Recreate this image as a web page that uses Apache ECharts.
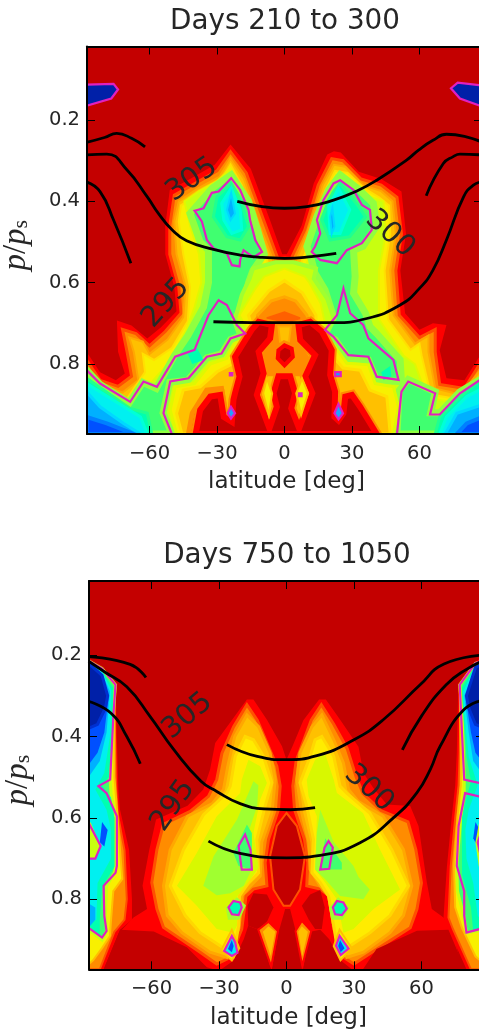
<!DOCTYPE html>
<html><head><meta charset="utf-8"><style>html,body{margin:0;padding:0;background:#fff;overflow:hidden}#c{width:479px;height:1032px}</style>
<script src="https://cdn.jsdelivr.net/npm/echarts@6/dist/echarts.min.js"></script></head><body><div id="c"></div>
<script>
const latTicks=[-60,-30,0,30,60];
const pTicks=[0.2,0.4,0.6,0.8];
const titles=['Days 210 to 300','Days 750 to 1050'];
const contourLabels=['305','300','295'];

// ---- Panel 1: temperature bands [lat, p/ps]
const t1Red=[[-88,.972],[-88,.77],[-82,.82],[-75,.84],[-71,.823],[-74,.77],[-74.5,.693],[-68,.705],[-61,.737],[-55,.71],[-48,.67],[-49,.61],[-53,.53],[-53,.46],[-51,.372],[-42,.345],[-31,.31],[-24,.26],[-15,.32],[-6.5,.445],[-1,.53],[1,.53],[7.6,.46],[13,.356],[19,.285],[22,.277],[25,.28],[33,.327],[43,.345],[52,.376],[54,.48],[51.5,.57],[53.6,.675],[60,.716],[66,.7],[72,.704],[69,.766],[72,.835],[80,.84],[88,.77],[88,.972]];
const t1Orange=[[-88,.972],[-88,.79],[-82,.84],[-74,.855],[-68,.83],[-70,.77],[-72,.715],[-66,.725],[-60,.755],[-53,.72],[-46,.675],[-47,.61],[-51,.53],[-51,.46],[-49,.385],[-41,.36],[-30,.325],[-24,.278],[-17,.33],[-9,.45],[-3,.54],[3,.54],[9,.47],[15,.36],[21,.295],[26,.3],[34,.345],[43,.36],[50,.39],[52,.48],[49.5,.57],[51,.68],[60,.735],[67,.715],[67,.77],[69,.85],[80,.86],[88,.79],[88,.972]];
const t1Gold=[[-88,.972],[-88,.81],[-80,.855],[-72,.87],[-65,.84],[-67,.77],[-69,.735],[-63,.745],[-60,.775],[-52,.74],[-45,.685],[-44,.61],[-48,.53],[-49,.45],[-47,.4],[-39,.37],[-29,.34],[-24,.295],[-18,.345],[-11,.46],[-4,.56],[4,.56],[10,.48],[17,.36],[22,.31],[27,.315],[35,.36],[43,.375],[48,.4],[49.5,.48],[47,.57],[48.5,.68],[58,.75],[64,.73],[64,.77],[67,.86],[78,.875],[88,.81],[88,.972]];
const t1Yellow=[[-88,.972],[-88,.835],[-78,.875],[-70,.885],[-62,.82],[-63,.775],[-58,.79],[-50,.76],[-43,.695],[-42,.61],[-45,.53],[-47,.45],[-46,.41],[-38,.38],[-29,.355],[-24,.31],[-19,.36],[-13,.47],[-6,.57],[6,.57],[12,.49],[18,.375],[22.5,.325],[28,.33],[36,.37],[42,.39],[46.5,.41],[47,.48],[44.5,.57],[46,.69],[56,.765],[60,.75],[61,.78],[65,.875],[76,.885],[88,.825],[88,.972]];
const t1Lime=[[-88,.972],[-88,.85],[-76,.89],[-68,.9],[-60,.85],[-52,.80],[-44,.72],[-40,.66],[-37,.6],[-38,.53],[-42,.46],[-44.5,.40],[-38,.375],[-30,.35],[-24,.32],[-20,.37],[-14,.48],[-8,.58],[8,.58],[14,.49],[19,.385],[23,.335],[28,.345],[36,.385],[44,.40],[45,.48],[42,.57],[42,.69],[53,.78],[58,.80],[62,.86],[66,.885],[76,.895],[88,.84],[88,.972]];
const t1GreenL=[[-42,.43],[-32,.367],[-23.7,.335],[-16,.40],[-12,.47],[-9,.53],[-14,.57],[-16,.6],[-18,.65],[-22,.69],[-20,.72],[-17,.725],[-24,.74],[-28,.775],[-34.5,.785],[-43,.84],[-51,.845],[-54,.92],[-50,.972],[-88,.972],[-88,.815],[-82,.85],[-69,.895],[-63,.845],[-57,.86],[-49,.78],[-43,.73],[-36,.66],[-33.8,.60],[-33.8,.52],[-37.5,.50]];
const t1GreenR=[[24.7,.335],[33,.37],[39.5,.405],[41,.46],[35,.51],[30.7,.52],[31.4,.585],[30.7,.626],[36,.675],[38,.708],[41,.725],[51.4,.79],[52,.843],[41,.84],[37.3,.79],[28.4,.786],[22.5,.74],[18,.728],[21.8,.684],[18,.618],[13.6,.577],[12,.544],[10,.511],[14.4,.438],[19.6,.372]];
const t1GreenBR=[[50,.972],[51,.865],[55,.838],[67,.868],[65,.92],[69,.92],[78,.868],[88,.835],[88,.972]];
const t1SpringL=[[-30,.389],[-23.7,.356],[-19,.405],[-16,.462],[-19.7,.495],[-25.6,.487],[-31.6,.438]];
const t1CyanL=[[-27.9,.405],[-23.7,.368],[-19.7,.421],[-19,.47],[-23.4,.479],[-27,.446]];
const t1SkyL=[[-25.6,.421],[-23.7,.38],[-22,.43],[-24,.446]];
const t1SpringR=[[19.6,.397],[24.7,.356],[33,.413],[36,.438],[29,.487],[20.3,.495],[16.6,.446]];
const t1CyanR=[[19.6,.413],[24,.368],[29,.421],[24.7,.479],[20.3,.479]];
const t1SkyR=[[20.3,.438],[21.3,.417],[22.2,.462],[21,.479]];
const t1SpringPatchL=[[-43,.775],[-39,.76],[-36,.79],[-41,.80]];
const t1SpringPatchR=[[43,.82],[47,.805],[47.5,.83],[44,.84]];
const t1SpringBL=[[-88,.835],[-68.6,.909],[-61,.921],[-59,.972],[-88,.972]];
const t1CyanBL=[[-88,.848],[-76,.889],[-64,.93],[-61,.972],[-88,.972]];
const t1SkyBL=[[-88,.868],[-82,.905],[-71.5,.946],[-64,.972],[-88,.972]];
const t1BlueBL=[[-88,.93],[-79,.946],[-67,.972],[-88,.972]];
const t1SpringBR=[[88,.835],[78,.88],[69,.93],[67,.972],[88,.972]];
const t1CyanBR=[[88,.86],[81,.88],[72,.93],[69,.972],[88,.972]];
const t1SkyBR=[[88,.9],[76.6,.921],[71.4,.972],[88,.972]];
const t1BlueBR=[[88,.93],[81,.946],[76.6,.972],[88,.972]];
const t1MidLime=[[-14,.565],[-4,.55],[4,.55],[14,.565],[13,.59],[19,.64],[22,.69],[19,.72],[14,.74],[-14,.74],[-19,.72],[-22,.69],[-19,.63],[-15.5,.59]];
const t1MidYellow=[[-9,.585],[0,.565],[9,.585],[11,.60],[16,.65],[18,.70],[15,.73],[-15,.73],[-20,.68],[-13,.615]];
const t1MidGold=[[-7,.62],[0,.595],[8,.625],[14,.68],[14,.72],[-14,.72],[-16,.68]];
const t1MidOrange=[[-6,.645],[0,.635],[5,.645],[10,.68],[11,.71],[-12,.71],[-12,.68]];
const t1MidDeep=[[-8,.685],[0,.67],[7,.685],[7,.705],[-8,.705]];
const t1LowYellow=[[-48,.972],[-50.8,.913],[-48.6,.856],[-40,.848],[-33,.80],[-25.6,.786],[-22,.749],[-16,.733],[16,.733],[21.8,.753],[27.7,.798],[37.3,.802],[40.3,.848],[48.4,.856],[50.7,.905],[48.4,.972]];
const t1LowGold=[[-45.6,.972],[-48,.921],[-45,.864],[-37.5,.856],[-30,.819],[-24,.802],[-20,.766],[-16,.741],[16.6,.741],[20.3,.774],[26,.81],[33.6,.815],[38,.864],[45.5,.88],[47,.972]];
const t1Neck=[[-7,.70],[7,.70],[8,.76],[12,.79],[10,.83],[-10,.83],[-12,.79],[-8,.76]];
const t1NeckGold=[[-2.7,.708],[2.8,.708],[2,.745],[-2,.745]];
const t1LowRedL=[[-42.7,.972],[-41,.921],[-34.6,.864],[-28,.86],[-26,.93],[-28,.972]];
const t1LowDark=[[-39.5,.972],[-37.5,.913],[-33,.88],[-28.6,.876],[-27,.93],[-23.4,.942],[-22.7,.888],[-22,.872],[-20,.831],[-22,.782],[-14.6,.716],[-11.5,.696],[-5.6,.704],[-6.4,.737],[-11.5,.77],[-9.3,.823],[-12.3,.876],[-6.7,.958],[-3.4,.905],[-4.9,.872],[-2.7,.83],[2.5,.83],[4.7,.872],[3,.909],[6.5,.958],[12.4,.872],[9.2,.831],[13.6,.778],[7,.741],[6.2,.704],[11.4,.696],[16.6,.72],[21,.766],[20.3,.827],[22.5,.868],[22.2,.93],[24,.939],[26.2,.921],[27,.88],[30,.876],[33.6,.905],[41,.972]];
const t1HoleC=[[-2.7,.766],[0,.754],[3.2,.762],[3.7,.782],[0,.803],[-3,.786]];
const t1ColL=[[-7.8,.835],[-5.5,.872],[-7,.925],[-9.5,.872]];
const t1ColR=[[7.8,.835],[10.5,.872],[7.4,.925],[5.2,.872]];
const t1DiaL=[[-23.8,.905],[-22,.921],[-23.8,.934],[-25.3,.921]];
const t1DiaR=[[24,.898],[26,.921],[24,.936],[22.2,.921]];
const t1DotL=[[-24.3,.822],[-23.2,.822],[-23.2,.828],[-24.3,.828]];
const t1DotR=[[22.5,.82],[25,.82],[25,.83],[22.5,.83]];
const t1DotC=[[6.4,.872],[7.6,.872],[7.6,.879],[6.4,.879]];
const t1CapL=[[-88,.113],[-76,.111],[-74,.125],[-77,.147],[-88,.165]];
const t1CapR=[[88,.115],[77,.108],[74,.122],[78,.147],[88,.167]];
// magenta contour
const t1MagLobeL=[[-40,.423],[-36,.417],[-32.3,.379],[-29.3,.376],[-23.7,.343],[-19.7,.372],[-16,.421],[-15.3,.446],[-13,.495],[-10,.524],[-13.8,.538],[-18.2,.52],[-19.7,.544],[-20,.56],[-23.4,.557],[-25.6,.528],[-31.5,.516],[-34.5,.495],[-36.7,.45]];
const t1MagLobeR=[[24.7,.348],[30.7,.372],[34.4,.409],[38,.421],[38.8,.47],[34.4,.503],[27.7,.52],[23.3,.552],[15.9,.544],[12.1,.524],[13.6,.511],[15.9,.479],[14.4,.446],[17.3,.397],[21.8,.356]];
const t1MagRingR=[[18,.716],[21.8,.733],[28.4,.778],[37.3,.782],[41,.831],[50.7,.839],[48.4,.79],[37.3,.737],[35,.704],[29.2,.675],[26.2,.614],[23.3,.68]];
const t1MagLow=[[-88,.815],[-82,.848],[-68.6,.893],[-62.7,.843],[-56.7,.856],[-48.6,.782],[-40,.765],[-33.8,.68],[-29.3,.643],[-25.6,.655],[-21.2,.704],[-17.5,.725],[-24,.737],[-28,.774],[-34.5,.782],[-42.7,.835],[-50.8,.843],[-53.8,.921],[-50,.973]];
const t1MagBR=[[50,.973],[52,.868],[55,.843],[67,.872],[64.7,.924],[69,.924],[78,.872],[88,.835]];
// black temperature contours
const t1L305a=[[-88,.255],[-80,.243],[-74.6,.233],[-68,.245],[-62,.266]];
const t1L305b=[[-21,.40],[-10,.413],[0,.417],[10,.413],[21.8,.397],[32,.375],[41,.348],[54.4,.298],[59.6,.274],[66,.25],[72,.235],[80,.24],[88,.255]];
const t1L300a=[[-88,.286],[-79,.284],[-70,.323],[-61,.389],[-56,.43],[-50,.47],[-43.5,.497],[-31.6,.518],[-19.7,.532],[-10,.538],[0,.54],[12,.536],[23,.528]];
const t1L300b=[[63,.386],[70.6,.307],[75,.29],[78,.284],[88,.286]];
const t1L295a=[[-88,.352],[-82,.376],[-76,.446],[-68.3,.552]];
const t1L295b=[[-31.6,.696],[-15,.698],[21.8,.698],[36.6,.688],[51.4,.655],[60,.614],[66,.569],[72,.495],[79.6,.389],[84,.36],[88,.352]];
const t1LabelLat=[-41.2,46.9,-52.7], t1LabelP=[.347,.48,.65];

// ---- Panel 2
const t2RedC=[[-17.6,.309],[-14.7,.309],[-8.7,.359],[-2,.424],[0,.457],[3,.42],[7.5,.36],[14.5,.309],[17.5,.309],[24,.36],[32,.425],[34.2,.49],[38.7,.527],[44.6,.567],[55,.571],[58.7,.62],[62.4,.759],[64.6,.824],[69.8,.845],[74,.88],[78,.972],[-80,.972],[-74,.88],[-68,.845],[-62,.824],[-64,.767],[-61,.678],[-58,.604],[-44,.57],[-37,.53],[-34,.482],[-31.7,.416]];
const t2RedL=[[-88,.205],[-81.3,.241],[-76,.27],[-75.4,.408],[-74.7,.53],[-74,.58],[-70,.678],[-68.7,.80],[-68.7,.85],[-74,.875],[-81.3,.972],[-88,.972]];
const t2RedR=[[76.4,.27],[84,.216],[88,.205],[88,.972],[80,.972],[72,.873],[69.8,.845],[71.3,.72],[73.5,.596],[75,.52],[75.7,.44]];
const t2OrangeLobeL=[[-17.6,.322],[-23.5,.376],[-28.7,.441],[-31,.506],[-34.7,.547],[-42.8,.584],[-54.7,.616],[-57.6,.678],[-59.9,.759],[-57.6,.824],[-54.7,.869],[-38.4,.93],[-31,.959],[-25,.943],[-19.9,.873],[-18,.792],[-14.7,.775],[-8.7,.767],[-9.5,.71],[-8,.653],[-3.6,.58],[-2.8,.522],[-4.3,.473],[-13,.36]];
const t2OrangeLobeR=[[15.5,.322],[21,.37],[27,.43],[31,.50],[34,.54],[42,.582],[54,.61],[57.5,.678],[60,.76],[58,.824],[55,.87],[38,.93],[30,.959],[26,.945],[21,.873],[19,.792],[15,.775],[9,.767],[9.5,.71],[8,.653],[3.6,.58],[2.8,.522],[4.3,.46],[11,.36]];
const t2GoldLobeL=[[-17.6,.347],[-23,.40],[-26,.47],[-28,.53],[-33,.565],[-44,.596],[-51.7,.678],[-54.7,.767],[-53,.84],[-46.5,.882],[-34,.93],[-26.5,.943],[-21.3,.873],[-20,.792],[-16,.767],[-11.7,.743],[-11,.66],[-6.5,.588],[-5,.506],[-7.3,.44],[-12.4,.376]];
const t2GoldLobeR=[[15.7,.347],[21,.408],[25.3,.465],[27.6,.53],[32,.56],[43,.596],[52,.678],[55.7,.767],[52,.84],[46,.882],[34.2,.93],[26.8,.943],[21,.865],[18.7,.792],[15,.767],[10.5,.727],[10,.66],[6.8,.588],[4.6,.506],[6,.44],[11.3,.376]];
const t2YellowLobeL=[[-18.4,.40],[-22.8,.449],[-25,.522],[-26.5,.539],[-36.9,.592],[-45.8,.678],[-51.7,.767],[-45,.84],[-38.4,.882],[-29.5,.914],[-23.6,.94],[-21.3,.865],[-20.9,.792],[-16.9,.759],[-12.4,.735],[-13.2,.653],[-9.5,.571],[-6.5,.514],[-10.2,.449],[-14.7,.408]];
const t2YellowLobeR=[[15.7,.40],[21,.449],[23.8,.522],[26.8,.539],[37,.588],[46.8,.678],[54.2,.767],[46,.84],[37.2,.882],[28.3,.914],[23,.935],[21,.865],[18.7,.792],[15,.759],[11.3,.735],[12,.653],[9,.571],[6,.514],[10.5,.449],[12.7,.408]];
const t2LimeLobeL=[[-16.9,.457],[-19.9,.506],[-20.6,.539],[-31,.596],[-39.9,.686],[-48.7,.767],[-39.9,.816],[-31,.873],[-23.6,.882],[-22,.865],[-21.8,.792],[-16,.751],[-12.4,.722],[-14.7,.637],[-11.7,.555],[-8.7,.514],[-11.7,.473]];
const t2LimeLobeR=[[17,.44],[21,.506],[22.4,.539],[34,.588],[41.6,.678],[50.5,.776],[38.7,.824],[29.8,.873],[25.3,.882],[22.4,.8],[17.2,.759],[12.7,.727],[13.5,.596],[9.8,.547],[9,.506],[12.7,.457]];
const t2GrassL=[[-14.7,.51],[-17,.54],[-22,.604],[-32.4,.694],[-37,.767],[-31,.79],[-25,.785],[-19,.767],[-15.5,.727],[-17,.637],[-13,.57],[-12.5,.52]];
const t2GrassR=[[15,.58],[21,.66],[29.8,.718],[32,.745],[37,.776],[34.2,.8],[23.8,.792],[17.2,.751],[12.7,.727],[13.5,.637]];
const t2GreenL=[[-17.6,.616],[-15.4,.637],[-15.4,.727],[-21.3,.718],[-23.6,.686]];
const t2GreenR=[[17.2,.65],[24.6,.71],[24.6,.727],[15,.727]];
const t2SpikeOrangeL=[[-12.5,.875],[-8,.855],[-3.8,.878],[-6.8,.965]];
const t2SpikeOrangeR=[[4,.878],[6.8,.853],[11,.878],[7,.963]];
const t2SpikeGoldL=[[-10.5,.88],[-8,.866],[-5,.88],[-7,.94]];
const t2SpikeGoldR=[[5.2,.88],[6.8,.866],[9.5,.88],[7,.94]];
const t2Lens=[[0,.588],[-4.3,.62],[-7.3,.694],[-5.8,.776],[-1.3,.816],[1.6,.816],[6,.776],[8.2,.694],[4.6,.62]];
const t2HexL=[[-14.7,.785],[-8.7,.788],[-5.8,.82],[-9.5,.865],[-13.2,.873],[-17,.865],[-17.3,.816]];
const t2HexR=[[6.8,.816],[10.5,.788],[15,.777],[17,.82],[15.7,.873],[12.7,.873],[9.8,.849]];
const t2Wedge=[[-81.3,.973],[-74,.875],[-59,.879],[-44.3,.918],[-35.4,.967],[-32.4,.972],[-29,.972],[-23.6,.951],[-19,.898],[-17,.865],[-12.4,.875],[-7.3,.963],[-6.5,.972],[-3.6,.882],[-.6,.824],[1.6,.824],[4.3,.882],[6.8,.963],[7.3,.972],[10.5,.88],[15,.875],[19,.898],[24,.95],[29,.972],[34,.972],[40,.922],[58,.877],[72,.875],[79.5,.973]];
const t2SpotL=[[-25.8,.82],[-23.6,.804],[-20.6,.808],[-19.9,.82],[-21.3,.839],[-24.3,.837]];
const t2SpotR=[[20.6,.82],[22.4,.804],[25.3,.808],[26.8,.823],[24.6,.839],[21.6,.837]];
const t2HaloL=[[-27,.82],[-22,.795],[-18,.815],[-21,.85],[-26,.85]];
const t2HaloR=[[19,.82],[23,.795],[28,.82],[25,.85],[20,.85]];
const t2DiaHaloL=[[-24.3,.875],[-21,.92],[-24.3,.95],[-29,.925]];
const t2DiaHaloR=[[23.6,.875],[29,.92],[24,.95],[21,.915]];
const t2DiaL=[[-24.3,.89],[-22.8,.906],[-21.8,.931],[-24.3,.939],[-27.7,.927]];
const t2DiaR=[[23.6,.89],[27.6,.921],[24.1,.937],[22,.914]];
const t2DiaCoreL=[[-24.3,.90],[-23.5,.915],[-24.3,.93],[-26,.922]];
const t2DiaCoreR=[[23.8,.90],[25.8,.92],[24.1,.93],[23,.915]];
const t2OrangeColL=[[-88,.23],[-81,.255],[-76.8,.28],[-76.2,.41],[-75.7,.53],[-75,.59],[-72,.68],[-71,.8],[-72,.85],[-76.5,.88],[-83,.972],[-88,.972]];
const t2YellowColL=[[-88,.22],[-82,.245],[-76.5,.28],[-76.5,.41],[-76.5,.5],[-75.5,.57],[-74,.68],[-73,.75],[-77,.78],[-78,.85],[-78.5,.89],[-82,.92],[-86,.95],[-88,.96]];
const t2GreenColL=[[-88,.214],[-82,.233],[-76,.273],[-77,.343],[-78.4,.506],[-78,.54],[-75.8,.6],[-75.8,.718],[-76.5,.735],[-80,.767],[-80.5,.841],[-80,.878],[-82,.9],[-88,.875]];
const t2SpringColL=[[-88,.22],[-82,.24],[-77,.28],[-77.5,.4],[-79,.5],[-82,.52],[-78,.55],[-76.5,.6],[-76.5,.72],[-82,.77],[-83,.85],[-83,.89],[-88,.865]];
const t2CyanColL=[[-88,.22],[-82,.24],[-78,.285],[-78.5,.4],[-81,.49],[-85,.53],[-80,.58],[-78,.63],[-78,.70],[-84,.76],[-84.5,.85],[-88,.86]];
const t2SkyColL=[[-88,.22],[-82,.245],[-78.5,.29],[-80,.39],[-83,.46],[-88,.5]];
const t2BlueColL=[[-88,.22],[-82,.25],[-79,.3],[-81,.39],[-84,.44],[-88,.47]];
const t2DeepColL=[[-88,.22],[-82,.25],[-79.5,.3],[-80.5,.33],[-84,.37],[-88,.38]];
const t2SpotMidL=[[-82,.61],[-79.5,.63],[-81,.67],[-83,.66]];
const t2SpotLowL=[[-88,.81],[-85,.82],[-85,.85],[-88,.87]];
const t2PatchL=[[-88,.61],[-87,.612],[-82.6,.669],[-85,.70],[-88,.70]];
const t2OrangeColR=[[77.5,.28],[84,.23],[88,.22],[88,.972],[82,.972],[74,.873],[72,.845],[73,.72],[75,.6],[76.5,.52],[77,.44]];
const t2YellowColR=[[77,.28],[84,.225],[88,.215],[88,.96],[84,.94],[78,.87],[75,.82],[74.5,.72],[76,.6],[77.5,.52],[77.5,.44]];
const t2GreenColR=[[77,.273],[84,.22],[88,.214],[88,.875],[80,.882],[78.8,.84],[76,.78],[75.7,.718],[77.5,.6],[79,.539],[79,.506],[78,.34]];
const t2SpringColR=[[78,.28],[84,.225],[88,.22],[88,.865],[83,.88],[82,.82],[78,.74],[78,.6],[80,.55],[82,.51],[80,.45],[78.5,.34]];
const t2CyanColR=[[78.5,.29],[84,.225],[88,.22],[88,.86],[85,.84],[83,.76],[80,.70],[79.5,.63],[81,.58],[85,.52],[81,.45],[79,.34]];
const t2SkyColR=[[79,.30],[84,.23],[88,.22],[88,.5],[83,.46],[81,.39]];
const t2BlueColR=[[79.5,.30],[84,.23],[88,.22],[88,.47],[84,.44],[82,.39]];
const t2DeepColR=[[80,.30],[84,.23],[88,.22],[88,.38],[84,.37],[81,.33]];
const t2SpotMidR=[[84,.61],[86,.63],[85,.67],[83,.65]];
const t2PatchR=[[88,.61],[85.5,.615],[84,.66],[85.5,.72],[88,.72]];
const t2MagColL=[[-88,.214],[-82,.233],[-76,.273],[-76.9,.343],[-78.4,.506],[-83.6,.522],[-80,.539],[-75.4,.596],[-75.4,.718],[-76,.735],[-81.3,.767],[-81,.841],[-80,.878],[-82,.894],[-88,.87]];
const t2MagPatchL=[[-88,.612],[-82.6,.669],[-85,.70],[-88,.70]];
const t2MagColR=[[88,.212],[84,.22],[77,.273],[79,.506],[85.6,.514]];
const t2MagColR2=[[88,.55],[85.6,.547],[79.4,.539],[76.5,.62],[75.7,.718],[79,.78],[79,.84],[80,.882],[88,.87]];
const t2MagPatchR=[[88,.612],[85,.66],[88,.735]];
const t2MagStripL=[[-18.4,.641],[-16,.678],[-15.4,.727],[-19.9,.727],[-21.3,.669]];
const t2MagStripR=[[18.7,.657],[20.6,.673],[19,.725],[15,.727],[16.9,.673]];
const t2L305a=[[-88,.204],[-69.5,.223],[-62.5,.255]];
const t2L305b=[[-26.5,.42],[-13,.449],[0,.457],[13.5,.447],[30,.408],[43,.359],[59.4,.273],[70,.222],[88,.2]];
const t2L300a=[[-88,.215],[-81,.241],[-71,.278],[-60.6,.351],[-50,.433],[-38,.51],[-31,.535],[-20.6,.565],[-10,.578],[1.6,.58],[12.7,.575]];
const t2L300b=[[51.5,.433],[60,.35],[71,.273],[80,.235],[88,.213]];
const t2L295a=[[-88,.314],[-78,.343],[-71,.40],[-65,.467]];
const t2L295b=[[-34.7,.657],[-20.6,.687],[0,.698],[15,.692],[32.7,.661],[47.5,.6],[58,.538],[64,.48],[68.3,.424],[78.7,.335],[88,.31]];
const t2LabelLat=[-44,36.7,-50.4], t2LabelP=[.35,.528,.57];
const labelAngles1=[35,-42,48], labelAngles2=[40,-42,55];

const DARK='#c40000',RED='#ff0000',ORA='#ff8c00',GOLD='#ffc000',YEL='#f8f000',LIME='#c8ff10',GRASS='#a0ff30',GRN='#40ff70',SPR='#00ffb0',CYN='#00f0f0',SKY='#00b0ff',BLU='#0050ff',DEEP='#0020a8',MAG='#e020c0';

function L(r,fill,stroke,w){return {r,fill,stroke:stroke||null,w:w||0};}
const M=(r)=>({r,fill:'none',stroke:MAG,w:2.2,closed:true});
const O=(r)=>({r,fill:'none',stroke:MAG,w:2.2,closed:false});
const F=(r,fill)=>({r,fill,stroke:MAG,w:2.2,closed:true});
const layers1=[
 L(t1Red,RED),L(t1Orange,ORA,'#ff5000',3),L(t1Gold,GOLD,'#ffa800',2),L(t1Yellow,YEL,'#ffe000',2),L(t1Lime,LIME,'#e0f800',2),
 L(t1GreenL,GRN,'#90ff40',7),L(t1GreenR,GRN,'#90ff40',7),L(t1GreenBR,GRN,'#90ff40',7),
 L(t1SpringPatchL,SPR),L(t1SpringPatchR,SPR),
 L(t1SpringL,SPR,'#20ff90',3),L(t1CyanL,CYN,'#00ffd8',3),L(t1SkyL,SKY,'#00d8ff',2),
 L(t1SpringR,SPR,'#20ff90',3),L(t1CyanR,CYN,'#00ffd8',3),L(t1SkyR,SKY,'#00d8ff',2),
 L(t1SpringBL,SPR,'#20ff90',3),L(t1CyanBL,CYN,'#00ffd8',3),L(t1SkyBL,SKY,'#00d8ff',3),L(t1BlueBL,BLU,'#0080ff',4),
 L(t1SpringBR,SPR,'#20ff90',3),L(t1CyanBR,CYN,'#00ffd8',3),L(t1SkyBR,SKY,'#00d8ff',3),L(t1BlueBR,BLU,'#0080ff',4),
 L(t1MidLime,LIME,'#a0ff30',4),L(t1MidYellow,YEL,'#e0f800',2),L(t1MidGold,GOLD,'#ffe000',3),L(t1MidOrange,ORA,'#ffa800',3),L(t1MidDeep,'#ff6000'),
 L(t1LowYellow,YEL,'#e0f800',3),L(t1LowGold,GOLD,'#ffe000',3),L(t1LowRedL,RED,ORA,5),
 L(t1Neck,ORA),L(t1NeckGold,GOLD,'#ffa800',2),
 L(t1LowDark,DARK,ORA,10),L(t1LowDark,DARK,RED,6),L(t1HoleC,DARK,ORA,9),L(t1HoleC,DARK,RED,4),
 L(t1ColL,YEL,GOLD,2),L(t1ColR,YEL,GOLD,2),
 M(t1MagLobeL),M(t1MagLobeR),M(t1MagRingR),O(t1MagLow),O(t1MagBR),
 F(t1CapL,DEEP),F(t1CapR,DEEP),F(t1DiaL,'#20a0ff'),F(t1DiaR,'#20a0ff'),F(t1DotL,SKY),F(t1DotR,SKY),F(t1DotC,SKY)
];
const layers2=[
 L(t2RedC,RED),L(t2RedL,RED),L(t2RedR,RED),
 L(t2OrangeLobeL,ORA,'#ff5000',3),L(t2OrangeLobeR,ORA,'#ff5000',3),
 L(t2GoldLobeL,GOLD,'#ffa800',3),L(t2GoldLobeR,GOLD,'#ffa800',3),
 L(t2YellowLobeL,'#ffec00','#ffd800',3),L(t2YellowLobeR,'#ffec00','#ffd800',3),
 L(t2LimeLobeL,'#d8f800'),L(t2LimeLobeR,'#d8f800'),L(t2GrassL,GRASS),L(t2GrassR,GRASS),L(t2GreenL,GRN),L(t2GreenR,GRN),
 L(t2Lens,DARK,'#ff5000',2),L(t2HexL,DARK),L(t2HexR,DARK),L(t2Wedge,DARK),
 L(t2SpikeOrangeL,ORA,RED,2),L(t2SpikeOrangeR,ORA,RED,2),L(t2SpikeGoldL,GOLD),L(t2SpikeGoldR,GOLD),
 L(t2HaloL,GRASS),L(t2HaloR,GRASS),L(t2DiaHaloL,YEL,GOLD,2),L(t2DiaHaloR,YEL,GOLD,2),
 L(t2OrangeColL,ORA,'#ff5000',2),L(t2YellowColL,YEL,GOLD,2),L(t2GreenColL,GRN,LIME,3),L(t2SpringColL,SPR),L(t2CyanColL,CYN),L(t2SkyColL,SKY),L(t2BlueColL,BLU),L(t2DeepColL,DEEP,'#0030d0',3),
 L(t2SpotMidL,BLU),L(t2SpotLowL,SKY),L(t2PatchL,LIME),
 L(t2OrangeColR,ORA,'#ff5000',2),L(t2YellowColR,YEL,GOLD,2),L(t2GreenColR,GRN,LIME,3),L(t2SpringColR,SPR),L(t2CyanColR,CYN),L(t2SkyColR,SKY),L(t2BlueColR,BLU),L(t2DeepColR,DEEP,'#0030d0',3),
 L(t2SpotMidR,BLU),L(t2PatchR,LIME),
 M(t2MagColL),M(t2MagPatchL),O(t2MagColR),O(t2MagColR2),O(t2MagPatchR),M(t2MagStripL),M(t2MagStripR),
 F(t2SpotL,SPR),F(t2SpotR,SPR),F(t2DiaL,CYN),F(t2DiaR,CYN),L(t2DiaCoreL,BLU),L(t2DiaCoreR,BLU)
];
const black1=[t1L305a,t1L305b,t1L300a,t1L300b,t1L295a,t1L295b];
const black2=[t2L305a,t2L305b,t2L300a,t2L300b,t2L295a,t2L295b];

const font='"DejaVu Sans"', ink='#262626';
const grids=[{left:87,top:46.5,width:395,height:387.5,show:true,backgroundColor:DARK,borderWidth:0,outerBoundsMode:'none'},
             {left:89,top:581,width:395,height:388.3,show:true,backgroundColor:DARK,borderWidth:0,outerBoundsMode:'none'}];
const xAxes=[],yAxes=[],series=[];
[[.0193,.972],[.018,.972]].forEach((rng,g)=>{
 const line={show:true,onZero:false,lineStyle:{color:'#000',width:2}};
 const tick={show:true,inside:true,length:8,customValues:latTicks,lineStyle:{color:'#000',width:1}};
 xAxes.push({gridIndex:g,type:'value',position:'bottom',min:-87.8,max:87.8,splitLine:{show:false},axisLine:line,axisTick:tick,z:5,
  axisLabel:{customValues:latTicks,fontFamily:font,fontSize:19.5,color:ink,margin:10,formatter:v=>String(v).replace('-','\u2212')},
  name:'latitude [deg]',nameLocation:'middle',nameGap:37,nameTextStyle:{fontFamily:font,fontSize:23,color:ink,padding:[0,0,0,4]}});
 xAxes.push({gridIndex:g,type:'value',position:'top',min:-87.8,max:87.8,splitLine:{show:false},axisLine:line,axisTick:tick,axisLabel:{show:false},z:5});
 const ytick={show:true,inside:true,length:8,customValues:pTicks,lineStyle:{color:'#000',width:1}};
 yAxes.push({gridIndex:g,type:'value',inverse:true,position:'left',min:rng[0],max:rng[1],splitLine:{show:false},axisLine:line,axisTick:ytick,z:5,
  axisLabel:{customValues:pTicks,fontFamily:font,fontSize:19.5,color:ink,margin:7,formatter:v=>v.toFixed(1)},
  name:'{i|p}{n|/}{i|p}{s|s}',nameLocation:'middle',nameRotate:90,nameGap:54,
  nameTextStyle:{padding:[0,10,0,0],rich:{i:{fontFamily:'"Liberation Serif"',fontStyle:'italic',fontSize:33,color:ink},n:{fontFamily:'"Liberation Serif"',fontSize:33,color:ink},s:{fontFamily:'"Liberation Serif"',fontSize:22,color:ink,padding:[10,0,0,0]}}}});
 yAxes.push({gridIndex:g,type:'value',inverse:true,position:'right',min:rng[0],max:rng[1],splitLine:{show:false},axisLine:line,axisTick:ytick,axisLabel:{show:false},z:5});
 const layers=g?layers2:layers1, xi=g*2, yi=g*2;
 series.push({type:'custom',coordinateSystem:'cartesian2d',xAxisIndex:xi,yAxisIndex:yi,clip:true,silent:true,z:1,
  data:layers.map((_,i)=>[i]),encode:{x:-1,y:-1},
  renderItem:(p,api)=>{const l=layers[p.dataIndex];const pts=l.r.map(q=>api.coord(q));
   const open=l.closed===false;
   return {type:open?'polyline':'polygon',shape:{points:pts},style:{fill:open?null:(l.fill==='none'?null:l.fill),stroke:l.stroke,lineWidth:l.w}};}});
 (g?black2:black1).forEach(d=>series.push({type:'line',xAxisIndex:xi,yAxisIndex:yi,data:d,symbol:'none',smooth:0.5,silent:true,z:3,lineStyle:{color:'#000',width:2.8}}));
 const la=g?t2LabelLat:t1LabelLat, lp=g?t2LabelP:t1LabelP, ang=g?labelAngles2:labelAngles1;
 contourLabels.forEach((t,i)=>series.push({type:'scatter',xAxisIndex:xi,yAxisIndex:yi,data:[[la[i],lp[i]]],symbolSize:1,itemStyle:{opacity:0},silent:true,z:4,
  label:{show:true,position:'inside',formatter:t,rotate:ang[i],fontFamily:font,fontSize:29,color:ink,opacity:1}}));
});
const chart=echarts.init(document.getElementById('c'),null,{renderer:'canvas'});
chart.setOption({animation:false,backgroundColor:'#fff',
 title:[{text:titles[0],left:280,top:3,textAlign:'center',textStyle:{fontFamily:font,fontSize:27.8,fontWeight:'normal',color:ink}},
        {text:titles[1],left:282,top:537,textAlign:'center',textStyle:{fontFamily:font,fontSize:27.8,fontWeight:'normal',color:ink}}],
 grid:grids,xAxis:xAxes,yAxis:yAxes,series});
</script></body></html>
